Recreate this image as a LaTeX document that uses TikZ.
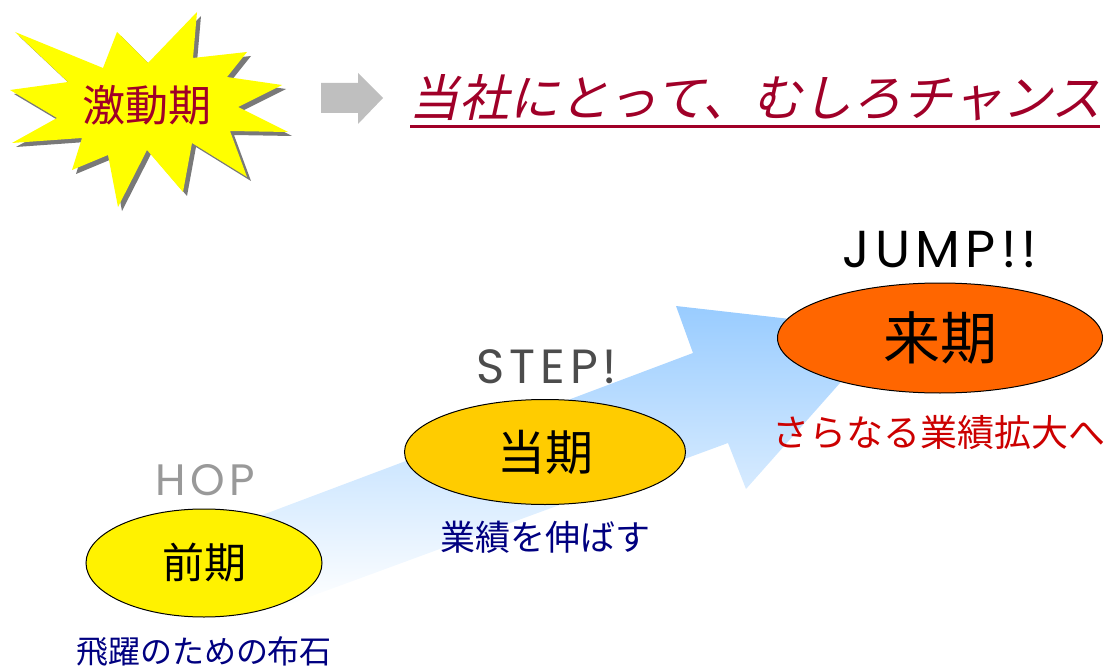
\documentclass[tikz,border=0pt]{standalone}
\usepackage{fontspec}
\usetikzlibrary{shapes.geometric}
\newfontfamily\jpfont{Noto Sans CJK JP}
\newfontfamily\jpslant[FakeSlant=0.22]{Noto Sans CJK JP}
\newfontfamily\hopfont[LetterSpace=10]{Poppins}
\definecolor{burstred}{RGB}{160,0,40}
\definecolor{burstyellow}{RGB}{255,255,0}
\definecolor{arrowblue}{RGB}{153,204,255}
\definecolor{notenavy}{RGB}{0,0,128}
\definecolor{notered}{RGB}{204,0,0}

\begin{document}
\begin{tikzpicture}[x=1pt, y=-1pt,
    period/.style={ellipse, draw=black, line width=1pt, inner sep=0pt},
    steptext/.style={inner sep=0pt, font=\hopfont\fontsize{#1}{#1}\selectfont},
    notetext/.style={inner sep=0pt, font=\jpfont\fontsize{#1}{#1}\selectfont}]
    \useasboundingbox (0,0) rectangle (1109,666);
    \def\burst{(15,32) -- (103,68) -- (117,32) -- (148,63) -- (197,12) -- (193,58) -- (247,52) -- (227,77)
      -- (282,85) -- (238,107) -- (288,132) -- (230,131) -- (247,177) -- (192,143) -- (183,192) -- (147,150)
      -- (118,207) -- (108,155) -- (72,170) -- (82,138) -- (12,143) -- (57,118) -- (10,90) -- (68,82) -- cycle}
    \fill[gray!95!black, shift={(4,4)}] \burst;
    \fill[burstyellow] \burst;
    \node[inner sep=0pt, text=burstred, font=\jpfont\fontsize{43}{43}\selectfont] (burst) at (147,105) {激動期};
    \fill[black!25] (321,83) -- (358,83) -- (358,73) -- (383,98) -- (358,124) -- (358,113) -- (321,113) -- cycle;
    \node[inner sep=0pt, text=burstred, font=\jpslant\fontsize{50}{50}\selectfont] (title) at (755,98) {当社にとって、むしろチャンス};
    \draw[burstred, line width=3pt] (410,127) -- (1100,127);
    \shade[top color=arrowblue, bottom color=white]
      (249,520) -- (693,353) -- (676,306) -- (887,330) -- (746,489) -- (728,443) -- (282,607) -- cycle;
    \node[period, fill=yellow, minimum width=236, minimum height=108, font=\jpfont\fontsize{42}{42}\selectfont] (prev) at (204,563) {前期};
    \node[period, fill={rgb,255:red,255;green,204;blue,0}, minimum width=281, minimum height=105, font=\jpfont\fontsize{48}{48}\selectfont] (curr) at (545,452) {当期};
    \node[period, fill={rgb,255:red,255;green,102;blue,0}, minimum width=325, minimum height=110, font=\jpfont\fontsize{57}{57}\selectfont] (next) at (940,338) {来期};
    \node[steptext=44, text=black!40] (hop) at (205,480) {HOP};
    \node[steptext=48, text=black!70] (step) at (547,367) {STEP!};
    \node[steptext=52, text=black] (jump) at (940,250) {JUMP!!};
    \node[notetext=32, text=notenavy] (prevnote) at (204,651) {飛躍のための布石};
    \node[notetext=35, text=notenavy] (currnote) at (545,537) {業績を伸ばす};
    \node[notetext=37, text=notered] (nextnote) at (939,432) {さらなる業績拡大へ};
\end{tikzpicture}
\end{document}
